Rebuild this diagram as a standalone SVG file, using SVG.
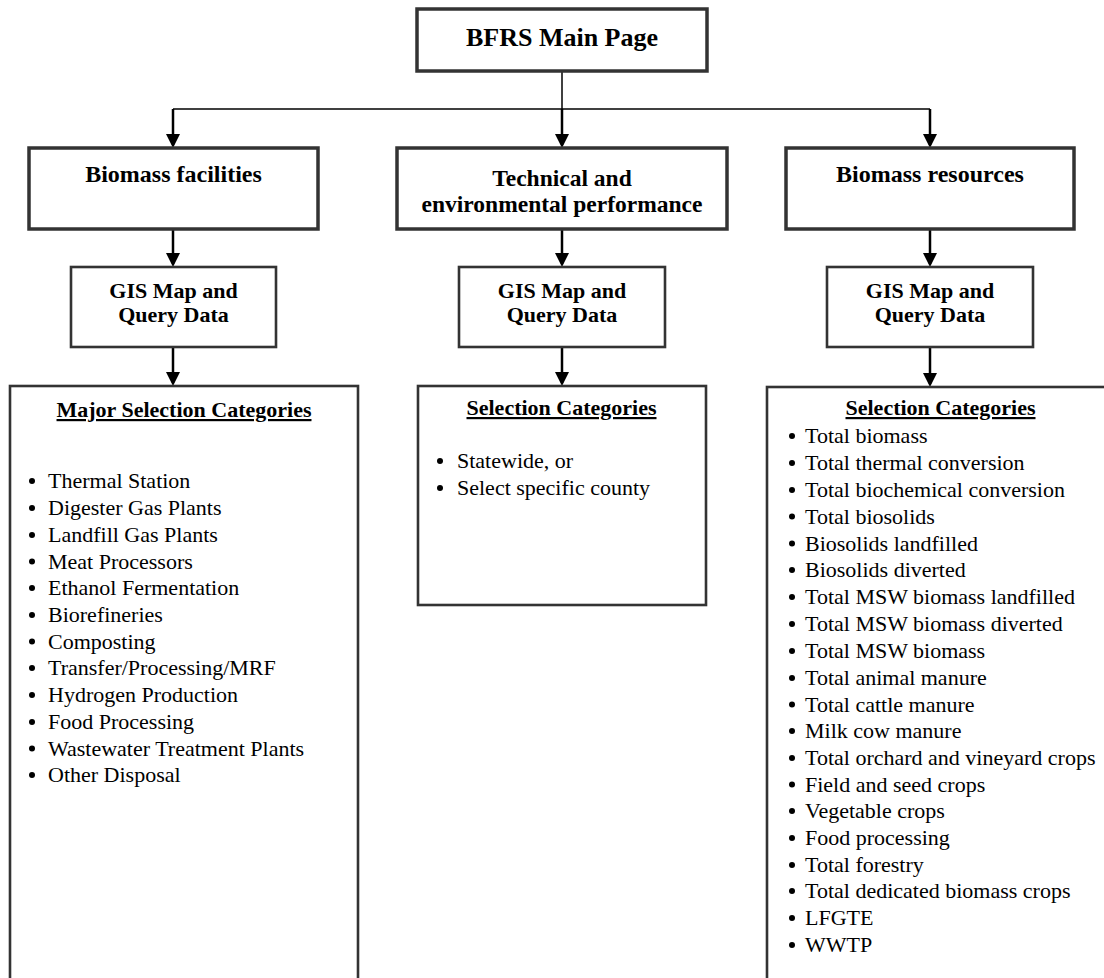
<svg xmlns="http://www.w3.org/2000/svg" width="1104" height="978" viewBox="0 0 1104 978">
<defs>
<style>
.box{fill:#fff;stroke:#333;}
.thick{stroke-width:3.5;}
.med{stroke-width:2.6;}
.t26{font-family:"Liberation Serif","DejaVu Serif",serif;font-size:26px;font-weight:bold;text-anchor:middle;fill:#000;}
.t24{font-family:"Liberation Serif","DejaVu Serif",serif;font-size:24px;font-weight:bold;text-anchor:middle;fill:#000;}
.t23{font-family:"Liberation Serif","DejaVu Serif",serif;font-size:23.5px;font-weight:bold;text-anchor:middle;fill:#000;}
.t22b{font-family:"Liberation Serif","DejaVu Serif",serif;font-size:22px;font-weight:bold;text-anchor:middle;fill:#000;}
.hd{font-family:"Liberation Serif","DejaVu Serif",serif;font-size:22px;font-weight:bold;text-anchor:middle;fill:#000;text-decoration:underline;}
.li{font-family:"Liberation Serif","DejaVu Serif",serif;font-size:22px;fill:#000;}
.bul{fill:#000;}
.c1{stroke:#000;stroke-width:1.5;fill:none;}
.c2{stroke:#000;stroke-width:2.5;fill:none;}
</style>
<marker id="arr" viewBox="0 0 14 14" refX="11" refY="7" markerWidth="14" markerHeight="14" markerUnits="userSpaceOnUse" orient="auto">
<path d="M0,0 L14,7 L0,14 z" fill="#000"/>
</marker>
</defs>
<rect width="1104" height="978" fill="#fff"/>

<g id="connectors">
<line class="c1" x1="562" y1="71" x2="562" y2="109"/>
<line class="c1" x1="173" y1="109" x2="930" y2="109"/>
<line class="c2" x1="173" y1="109" x2="173" y2="145" marker-end="url(#arr)"/>
<line class="c2" x1="562" y1="109" x2="562" y2="145" marker-end="url(#arr)"/>
<line class="c2" x1="930" y1="109" x2="930" y2="145" marker-end="url(#arr)"/>
<line class="c2" x1="173" y1="230" x2="173" y2="264" marker-end="url(#arr)"/>
<line class="c2" x1="562" y1="230" x2="562" y2="264" marker-end="url(#arr)"/>
<line class="c2" x1="930" y1="230" x2="930" y2="264" marker-end="url(#arr)"/>
<line class="c2" x1="173" y1="348" x2="173" y2="383" marker-end="url(#arr)"/>
<line class="c2" x1="562" y1="348" x2="562" y2="383" marker-end="url(#arr)"/>
<line class="c2" x1="930" y1="348" x2="930" y2="384" marker-end="url(#arr)"/>
</g>

<g id="main">
<rect class="box thick" x="417" y="9" width="290" height="62"/>
<text class="t26" x="562" y="46">BFRS Main Page</text>
</g>

<g id="facilities">
<rect class="box thick" x="29" y="148" width="289" height="81"/>
<text class="t24" x="173.5" y="182">Biomass facilities</text>
</g>

<g id="performance">
<rect class="box thick" x="397" y="148" width="330" height="81"/>
<text class="t23" x="562" y="185.5">Technical and</text>
<text class="t23" x="562" y="211.5">environmental performance</text>
</g>

<g id="resources">
<rect class="box thick" x="786" y="148" width="288" height="81"/>
<text class="t24" x="930" y="182">Biomass resources</text>
</g>

<g id="gis-facilities">
<rect class="box med" x="71" y="267" width="205" height="80"/>
<text class="t22b" x="173.5" y="298">GIS Map and</text>
<text class="t22b" x="173.5" y="322">Query Data</text>
</g>

<g id="gis-performance">
<rect class="box med" x="459" y="267" width="206" height="80"/>
<text class="t22b" x="562" y="298">GIS Map and</text>
<text class="t22b" x="562" y="322">Query Data</text>
</g>

<g id="gis-resources">
<rect class="box med" x="827" y="267" width="206" height="80"/>
<text class="t22b" x="930" y="298">GIS Map and</text>
<text class="t22b" x="930" y="322">Query Data</text>
</g>

<g id="facility-categories">
<rect class="box med" x="10" y="386" width="348" height="620"/>
<text class="hd" x="184" y="417">Major Selection Categories</text>
<g class="bul">
<circle cx="32" cy="481" r="3"/><circle cx="32" cy="508" r="3"/><circle cx="32" cy="535" r="3"/><circle cx="32" cy="561.5" r="3"/><circle cx="32" cy="588" r="3"/><circle cx="32" cy="615" r="3"/><circle cx="32" cy="641.5" r="3"/><circle cx="32" cy="668" r="3"/><circle cx="32" cy="695" r="3"/><circle cx="32" cy="722" r="3"/><circle cx="32" cy="748.5" r="3"/><circle cx="32" cy="775" r="3"/>
</g>
<text class="li" x="48" y="488">Thermal Station</text>
<text class="li" x="48" y="515">Digester Gas Plants</text>
<text class="li" x="48" y="542">Landfill Gas Plants</text>
<text class="li" x="48" y="568.5">Meat Processors</text>
<text class="li" x="48" y="595">Ethanol Fermentation</text>
<text class="li" x="48" y="622">Biorefineries</text>
<text class="li" x="48" y="648.5">Composting</text>
<text class="li" x="48" y="675">Transfer/Processing/MRF</text>
<text class="li" x="48" y="702">Hydrogen Production</text>
<text class="li" x="48" y="729">Food Processing</text>
<text class="li" x="48" y="755.5">Wastewater Treatment Plants</text>
<text class="li" x="48" y="782">Other Disposal</text>
</g>

<g id="performance-categories">
<rect class="box med" x="418" y="386" width="288" height="219"/>
<text class="hd" x="561.5" y="415">Selection Categories</text>
<g class="bul">
<circle cx="440" cy="461" r="3"/><circle cx="440" cy="488" r="3"/>
</g>
<text class="li" x="457" y="468">Statewide, or</text>
<text class="li" x="457" y="495">Select specific county</text>
</g>

<g id="resource-categories">
<rect class="box med" x="767" y="387" width="360" height="620"/>
<text class="hd" x="940.5" y="415">Selection Categories</text>
<g class="bul">
<circle cx="792" cy="436" r="3"/><circle cx="792" cy="463" r="3"/><circle cx="792" cy="490" r="3"/><circle cx="792" cy="516.5" r="3"/><circle cx="792" cy="543.5" r="3"/><circle cx="792" cy="570" r="3"/><circle cx="792" cy="597" r="3"/><circle cx="792" cy="624" r="3"/><circle cx="792" cy="651" r="3"/><circle cx="792" cy="678" r="3"/><circle cx="792" cy="704.5" r="3"/><circle cx="792" cy="731" r="3"/><circle cx="792" cy="758" r="3"/><circle cx="792" cy="784.5" r="3"/><circle cx="792" cy="811" r="3"/><circle cx="792" cy="838" r="3"/><circle cx="792" cy="865" r="3"/><circle cx="792" cy="891" r="3"/><circle cx="792" cy="918" r="3"/><circle cx="792" cy="945" r="3"/>
</g>
<text class="li" x="805" y="443">Total biomass</text>
<text class="li" x="805" y="470">Total thermal conversion</text>
<text class="li" x="805" y="497">Total biochemical conversion</text>
<text class="li" x="805" y="523.5">Total biosolids</text>
<text class="li" x="805" y="550.5">Biosolids landfilled</text>
<text class="li" x="805" y="577">Biosolids diverted</text>
<text class="li" x="805" y="604">Total MSW biomass landfilled</text>
<text class="li" x="805" y="631">Total MSW biomass diverted</text>
<text class="li" x="805" y="658">Total MSW biomass</text>
<text class="li" x="805" y="685">Total animal manure</text>
<text class="li" x="805" y="711.5">Total cattle manure</text>
<text class="li" x="805" y="738">Milk cow manure</text>
<text class="li" x="805" y="765">Total orchard and vineyard crops</text>
<text class="li" x="805" y="791.5">Field and seed crops</text>
<text class="li" x="805" y="818">Vegetable crops</text>
<text class="li" x="805" y="845">Food processing</text>
<text class="li" x="805" y="872">Total forestry</text>
<text class="li" x="805" y="898">Total dedicated biomass crops</text>
<text class="li" x="805" y="925">LFGTE</text>
<text class="li" x="805" y="952">WWTP</text>
</g>
</svg>
